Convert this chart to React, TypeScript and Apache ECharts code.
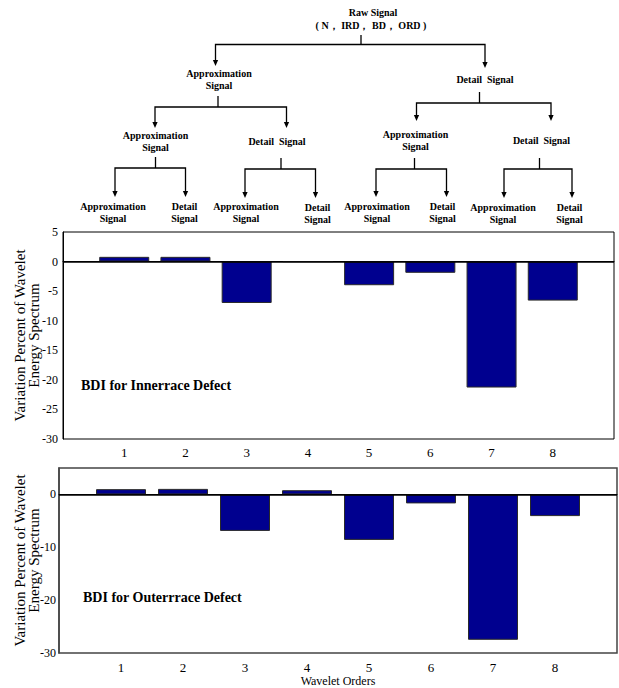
import React, { useEffect, useRef } from "react";
import * as echarts from "echarts";

// Wavelet decomposition orders shown on both panels
const waveletOrders = [1, 2, 3, 4, 5, 6, 7, 8];

// Variation percent of wavelet energy spectrum, inner race defect (BDI)
const innerRaceValues = [0.8, 0.8, -7.0, 0, -4.0, -1.9, -21.3, -6.6];

// Variation percent of wavelet energy spectrum, outer race defect (BDI)
const outerRaceValues = [1.0, 1.05, -6.9, 0.8, -8.6, -1.7, -27.5, -4.1];

// Value axis ranges
const innerAxis = { min: -30, max: 5, interval: 5 };
const outerAxis = { min: -30, max: 5, interval: 10 };

const SERIF = "'Liberation Serif'";
const BAR_FILL = "#00008f";
const LINE = "#000";

// ---- decomposition tree (drawn with graphic elements) ----
type TextNode = { text: string; x: number; y: number };
type Branch = { stemX: number; stemTop: number; barY: number; left: number; right: number; tipL: number; tipR: number };

const treeTexts: TextNode[] = [
  { text: "Raw Signal", x: 373, y: 12.5 },
  { text: "( N\uFF0C IRD\uFF0C BD\uFF0C ORD )", x: 371, y: 25.5 },
  { text: "Approximation\nSignal", x: 219, y: 79 },
  { text: "Detail  Signal", x: 485, y: 79 },
  { text: "Approximation\nSignal", x: 155.5, y: 141.5 },
  { text: "Detail  Signal", x: 277, y: 141 },
  { text: "Approximation\nSignal", x: 415.5, y: 140.5 },
  { text: "Detail  Signal", x: 541.5, y: 140.5 },
  { text: "Approximation\nSignal", x: 113, y: 212 },
  { text: "Detail\nSignal", x: 184.5, y: 212 },
  { text: "Approximation\nSignal", x: 246, y: 212.5 },
  { text: "Detail\nSignal", x: 317.5, y: 213 },
  { text: "Approximation\nSignal", x: 377, y: 212.5 },
  { text: "Detail\nSignal", x: 442.5, y: 212.5 },
  { text: "Approximation\nSignal", x: 503, y: 213 },
  { text: "Detail\nSignal", x: 569.5, y: 213 },
];

const treeBranches: Branch[] = [
  { stemX: 361, stemTop: 35, barY: 44.5, left: 215.5, right: 485, tipL: 66, tipR: 68 },
  { stemX: 218, stemTop: 96, barY: 107, left: 155, right: 286.5, tipL: 128, tipR: 128 },
  { stemX: 479.5, stemTop: 92, barY: 103, left: 416.5, right: 551, tipL: 121, tipR: 121 },
  { stemX: 155.5, stemTop: 157, barY: 168, left: 115, right: 185.5, tipL: 197, tipR: 197 },
  { stemX: 281, stemTop: 158, barY: 169, left: 245, right: 315.5, tipL: 198, tipR: 198 },
  { stemX: 414.5, stemTop: 158, barY: 169, left: 376, right: 446.5, tipL: 197, tipR: 197 },
  { stemX: 539.5, stemTop: 158, barY: 169, left: 504, right: 572, tipL: 198, tipR: 198 },
];

function arrowHead(x: number, tipY: number) {
  return {
    type: "polygon",
    shape: { points: [[x - 2.6, tipY - 6], [x + 2.6, tipY - 6], [x, tipY]] },
    style: { fill: LINE },
  };
}

function branchElements(b: Branch) {
  const stroke = { stroke: LINE, lineWidth: 1.3 };
  return [
    { type: "line", shape: { x1: b.stemX, y1: b.stemTop, x2: b.stemX, y2: b.barY }, style: stroke },
    { type: "polyline", shape: { points: [[b.left, b.tipL - 5], [b.left, b.barY], [b.right, b.barY], [b.right, b.tipR - 5]] }, style: { ...stroke, fill: null } },
    arrowHead(b.left, b.tipL),
    arrowHead(b.right, b.tipR),
  ];
}

function textElement(t: TextNode) {
  return {
    type: "text",
    x: t.x,
    y: t.y,
    style: {
      text: t.text,
      fontFamily: SERIF,
      fontWeight: "bold",
      fontSize: 10,
      fill: "#000",
      align: "center",
      verticalAlign: "middle",
      lineHeight: 12,
    },
  };
}

function barPairs(values: number[]) {
  return waveletOrders.map((o, i) => [o, values[i]]);
}

const xAxisBase = (gridIndex: number, labelMargin: number) => ({
  type: "value",
  gridIndex,
  min: 0,
  max: 9,
  interval: 1,
  splitLine: { show: false },
  axisTick: { show: false },
  axisLine: { show: true, lineStyle: { color: LINE, width: 1 } },
  axisLabel: {
    margin: labelMargin,
    color: "#000",
    fontFamily: SERIF,
    fontSize: 13,
    formatter: (v: number) => (v >= 1 && v <= 8 ? String(v) : ""),
  },
});

const zeroLine = {
  silent: true,
  symbol: "none",
  label: { show: false },
  lineStyle: { color: LINE, width: 1.5, type: "solid" },
  data: [{ yAxis: 0 }],
};

export default function App() {
  const ref = useRef<HTMLDivElement>(null);

  useEffect(() => {
    if (!ref.current) return;
    const chart = echarts.init(ref.current, null, { renderer: "svg" });

    const yName = "Variation Percent of Wavelet\nEnergy Spectrum";
    const yNameStyle = {
      fontFamily: SERIF,
      fontSize: 15,
      lineHeight: 14,
      color: "#000",
    };

    chart.setOption({
      animation: false,
      backgroundColor: "#fff",
      textStyle: { fontFamily: SERIF },
      grid: [
        { left: 63, top: 232, width: 551, height: 207, outerBoundsMode: "none", show: true, borderColor: LINE, borderWidth: 1, backgroundColor: "transparent" },
        { left: 59, top: 468, width: 558, height: 185, outerBoundsMode: "none", show: true, borderColor: "#444", borderWidth: 1.5, backgroundColor: "transparent" },
      ],
      xAxis: [
        xAxisBase(0, 7),
        {
          ...xAxisBase(1, 8),
          name: "Wavelet Orders",
          nameLocation: "middle",
          nameGap: 22,
          nameMoveOverlap: false,
          nameTextStyle: { fontFamily: SERIF, fontSize: 12, color: "#000" },
        },
      ],
      yAxis: [
        {
          type: "value",
          gridIndex: 0,
          ...innerAxis,
          name: yName,
          nameLocation: "middle",
          nameRotate: 90,
          nameGap: 22,
          nameMoveOverlap: false,
          nameTextStyle: yNameStyle,
          splitLine: { show: false },
          axisTick: { show: false },
          axisLine: { show: true, lineStyle: { color: LINE } },
          axisLabel: { margin: 5, color: "#000", fontFamily: SERIF, fontSize: 12 },
        },
        {
          type: "value",
          gridIndex: 1,
          ...outerAxis,
          name: yName,
          nameLocation: "middle",
          nameRotate: 90,
          nameGap: 18,
          nameMoveOverlap: false,
          nameTextStyle: yNameStyle,
          splitLine: { show: false },
          axisTick: { show: false },
          axisLine: { show: true, lineStyle: { color: "#444", width: 1.5 } },
          axisLabel: {
            margin: 3,
            color: "#000",
            fontFamily: SERIF,
            fontSize: 12,
            formatter: (v: number) => (v % 10 === 0 ? String(v) : ""),
          },
        },
      ],
      series: [
        {
          type: "bar",
          xAxisIndex: 0,
          yAxisIndex: 0,
          data: barPairs(innerRaceValues),
          barWidth: 50,
          itemStyle: { color: BAR_FILL, borderColor: "#2a2a2a", borderWidth: 1 },
          markLine: zeroLine,
        },
        {
          type: "bar",
          xAxisIndex: 1,
          yAxisIndex: 1,
          data: barPairs(outerRaceValues),
          barWidth: 50,
          itemStyle: { color: BAR_FILL, borderColor: "#2a2a2a", borderWidth: 1 },
          markLine: zeroLine,
        },
      ],
      graphic: [
        ...treeBranches.flatMap(branchElements),
        ...treeTexts.map(textElement),
        {
          type: "text",
          x: 81,
          y: 385,
          style: { text: "BDI for Innerrace Defect", fontFamily: SERIF, fontWeight: "bold", fontSize: 14, fill: "#000", verticalAlign: "middle" },
        },
        {
          type: "text",
          x: 83,
          y: 597,
          style: { text: "BDI for Outerrrace Defect", fontFamily: SERIF, fontWeight: "bold", fontSize: 14, fill: "#000", verticalAlign: "middle" },
        },
      ],
    });

    return () => chart.dispose();
  }, []);

  return (
    <div
      ref={ref}
      style={{ position: "absolute", left: 0, top: 0, width: 619, height: 688, background: "#fff" }}
    />
  );
}
